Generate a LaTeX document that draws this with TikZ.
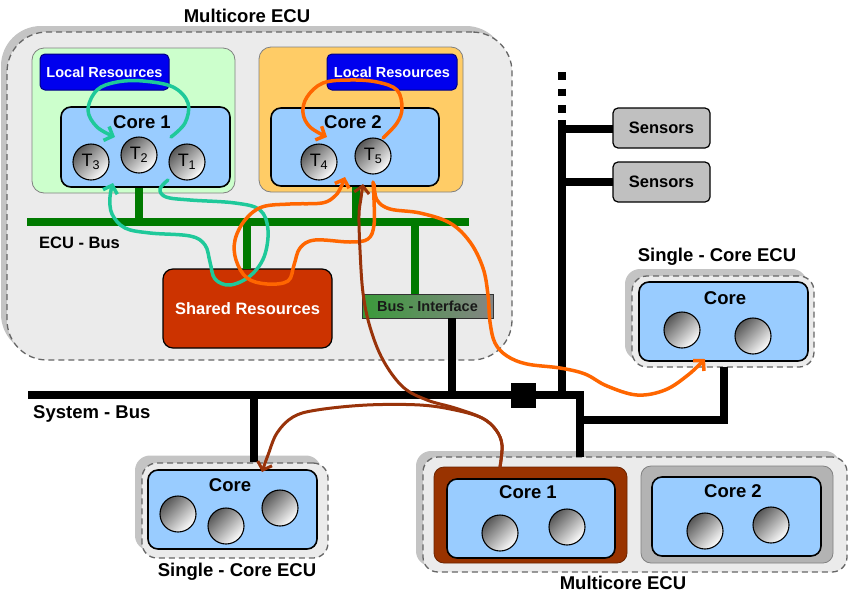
\documentclass[tikz,border=0pt]{standalone}
\usepackage{fontspec}
\setmainfont{Liberation Sans}
\usetikzlibrary{arrows.meta}
\definecolor{ecufillc}{HTML}{EBEBEB}
\definecolor{ecushadowc}{HTML}{C4C4C4}
\definecolor{dashc}{HTML}{666666}
\definecolor{greenc}{HTML}{CCFFCC}
\definecolor{orangec}{HTML}{FFCC66}
\definecolor{corec}{HTML}{99CCFF}
\definecolor{localresc}{HTML}{0000EE}
\definecolor{sharedc}{HTML}{CC3300}
\definecolor{busgreenc}{HTML}{007A00}
\definecolor{busifl}{HTML}{3A9A3A}
\definecolor{busifr}{HTML}{858585}
\definecolor{arrteal}{HTML}{1FC99A}
\definecolor{arrorange}{HTML}{FF6600}
\definecolor{arrbrown}{HTML}{99330A}
\definecolor{brownbox}{HTML}{993300}
\definecolor{graybox}{HTML}{B3B3B3}
\definecolor{sensorc}{HTML}{C0C0C0}
\newcommand{\ffbig}{\bfseries\fontsize{18.5}{20}\selectfont}
\newcommand{\ffmid}{\bfseries\fontsize{16.5}{18}\selectfont}
\newcommand{\ffsmall}{\bfseries\fontsize{14.5}{16}\selectfont}
\newcommand{\fftask}{\fontsize{18}{20}\selectfont}
\tikzset{
  box/.style={rectangle, inner sep=0pt, outer sep=0pt},
  ecushade/.style={box, fill=ecushadowc},
  ecubody/.style={box, fill=ecufillc, draw=dashc, line width=1.3pt, dash pattern=on 6pt off 4pt},
  greenarea/.style={box, fill=greenc, draw=gray, line width=0.8pt, rounded corners=12pt},
  orangearea/.style={box, fill=orangec, draw=gray, line width=0.8pt, rounded corners=12pt},
  localres/.style={box, fill=localresc, draw=localresc!55!black, line width=1pt, rounded corners=5pt, text=white, font=\ffsmall},
  corebox/.style={box, fill=corec, draw=black, line width=1.6pt, rounded corners=10pt},
  task/.style={circle, draw=black, line width=1.1pt, minimum size=36pt, inner sep=0pt, top color=black!66, bottom color=white, shading angle=45, font=\fftask},
  lbl/.style={font=\ffbig, inner sep=0pt},
  midlbl/.style={font=\ffmid, inner sep=0pt},
  ecubus/.style={draw=busgreenc, line width=8pt},
  sysbus/.style={draw=black, line width=8pt},
  arrbase/.style={line width=3.5pt, line cap=round, line join=round, -{Straight Barb[length=7pt,width=15pt]}},
  tealarr/.style={arrbase, draw=arrteal},
  orangearr/.style={arrbase, draw=arrorange},
  brownarr/.style={arrbase, draw=arrbrown, line width=3pt},
}
\begin{document}
\begin{tikzpicture}[x=1pt,y=-1pt]
\useasboundingbox[fill=white] (0,0) rectangle (850,600);

% ===== Top multicore ECU =====
\node[ecushade, rounded corners=40pt, minimum width=505pt, minimum height=328pt] (ecuAs) at (253.5,190) {};
\node[ecubody, rounded corners=40pt, minimum width=505pt, minimum height=328pt] (ecuA) at (259.5,196) {};
\node[lbl] (ecuAt) at (247,16) {Multicore ECU};

\node[greenarea, minimum width=203pt, minimum height=145pt] (garea) at (133.5,120.5) {};
\node[orangearea, minimum width=204pt, minimum height=145pt] (oarea) at (361,119.5) {};
\node[localres, minimum width=129pt, minimum height=36pt] (lrA) at (104.5,72) {Local Resources};
\node[localres, minimum width=130pt, minimum height=36pt] (lrB) at (392,72) {Local Resources};

% ECU bus
\coordinate (ebL) at (27,222);
\coordinate (ebR) at (469,222);
\coordinate (ebC1) at (139,222);
\coordinate (ebC2) at (356,222);
\coordinate (ebSR) at (247,222);
\coordinate (ebBI) at (415,222);
\coordinate (c1s) at (139,187);
\coordinate (c2s) at (356,186);
\draw[ecubus] (ebL) -- (ebR);
\draw[ecubus] (c1s) -- (ebC1);
\draw[ecubus] (c2s) -- (ebC2);

\node[corebox, minimum width=169pt, minimum height=80pt] (coreA1) at (145.5,147) {};
\node[lbl] (coreA1t) at (142,122) {Core 1};
\node[task] (t3) at (91,162) {T\textsubscript{3}};
\node[task] (t2) at (139,155) {T\textsubscript{2}};
\node[task] (t1) at (187,162) {T\textsubscript{1}};

\node[corebox, minimum width=168pt, minimum height=78pt] (coreA2) at (355,147) {};
\node[lbl] (coreA2t) at (353,122) {Core 2};
\node[task] (t4) at (319,162) {T\textsubscript{4}};
\node[task] (t5) at (373,156) {T\textsubscript{5}};

\node[box, fill=sharedc, draw=black, line width=1.2pt, rounded corners=10pt, minimum width=169pt, minimum height=79pt, text=white, font=\ffmid] (shared) at (247.5,308.5) {Shared Resources};
\node[box, left color=busifl, right color=busifr, draw=black!80, line width=1pt, minimum width=131pt, minimum height=24pt, text=black!90, font=\ffsmall] (busif) at (427.5,306) {Bus - Interface};
\draw[ecubus] (ebSR) -- (shared.north -| ebSR);
\draw[ecubus] (ebBI) -- (busif.north -| ebBI);
\node[midlbl, anchor=west] (ecubuslbl) at (39,243) {ECU - Bus};

% ===== Right single-core ECU =====
\node[ecushade, rounded corners=15pt, minimum width=182pt, minimum height=91pt] (ecuBs) at (716,314.5) {};
\node[ecubody, rounded corners=15pt, minimum width=182pt, minimum height=91pt] (ecuB) at (723,321.5) {};
\node[lbl] (ecuBt) at (717,257) {Single - Core ECU};
\node[corebox, minimum width=169pt, minimum height=79pt] (coreB) at (723.5,321.5) {};
\node[lbl] (coreBt) at (725,298) {Core};
\node[task] (tb1) at (682,330) {};
\node[task] (tb2) at (753,336) {};

% ===== Bottom multicore ECU =====
\node[ecushade, rounded corners=15pt, minimum width=424pt, minimum height=115pt] (ecuCs) at (628,508.5) {};
\node[ecubody, rounded corners=15pt, minimum width=424pt, minimum height=115pt] (ecuC) at (635,514.5) {};
\node[lbl] (ecuCt) at (623,583) {Multicore ECU};
\node[box, fill=brownbox, draw=brownbox!70!black, line width=0.8pt, rounded corners=10pt, minimum width=193pt, minimum height=96pt] (cC1o) at (530.5,515) {};
\node[corebox, minimum width=168pt, minimum height=79pt] (coreC1) at (531,518.5) {};
\node[lbl] (coreC1t) at (528,492) {Core 1};
\node[task] (tc1) at (500,533) {};
\node[task] (tc2) at (567,527) {};
\node[box, fill=graybox, draw=gray, line width=0.8pt, rounded corners=10pt, minimum width=192pt, minimum height=97pt] (cC2o) at (737,514.5) {};
\node[corebox, minimum width=169pt, minimum height=79pt] (coreC2) at (736.5,516.5) {};
\node[lbl] (coreC2t) at (733,491) {Core 2};
\node[task] (tc3) at (705,531) {};
\node[task] (tc4) at (771,525) {};

% ===== Bottom-left single-core ECU =====
\node[ecushade, rounded corners=15pt, minimum width=186pt, minimum height=95pt] (ecuDs) at (228,503) {};
\node[ecubody, rounded corners=15pt, minimum width=186pt, minimum height=95pt] (ecuD) at (235,510.5) {};
\node[lbl] (ecuDt) at (237,572) {Single - Core ECU};
\node[corebox, minimum width=169pt, minimum height=79pt] (coreD) at (232.5,509.5) {};
\node[lbl] (coreDt) at (230,485) {Core};
\node[task] (td1) at (178,514) {};
\node[task] (td2) at (226,526) {};
\node[task] (td3) at (280,508) {};

% ===== System bus =====
\coordinate (sbL) at (28,395);
\coordinate (sbR) at (580,395);
\coordinate (sbD) at (580,457);
\coordinate (sbBr) at (580,420);
\coordinate (sbBr2) at (724,420);
\coordinate (sbB) at (724,367);
\coordinate (sbLD) at (254,395);
\coordinate (sbLD2) at (254,462);
\coordinate (sbBI) at (452,395);
\coordinate (sv) at (562,395);
\coordinate (svtop) at (562,120);
\coordinate (svdot) at (562,72);
\coordinate (svdotend) at (562,114);
\draw[sysbus] (sbL) -- (sbR) -- (sbD);
\draw[sysbus] (sbBr) -- (sbBr2) -- (sbB);
\draw[sysbus] (sbLD) -- (sbLD2);
\draw[sysbus] (busif.south -| sbBI) -- (sbBI);
\draw[sysbus] (svtop) -- (sv);
\draw[sysbus, dash pattern=on 7.5pt off 9pt] (svdot) -- (svdotend);
\node[box, fill=black, minimum size=25pt] (conn) at (523,395) {};
\node[midlbl, anchor=west, font=\ffbig] (sysbuslbl) at (33,414) {System - Bus};

% Sensors
\node[box, fill=sensorc, draw=black, line width=1.2pt, rounded corners=5pt, minimum width=97pt, minimum height=40pt, font=\ffmid] (sens1) at (661.5,128) {Sensors};
\node[box, fill=sensorc, draw=black, line width=1.2pt, rounded corners=5pt, minimum width=97pt, minimum height=40pt, font=\ffmid] (sens2) at (661.5,182) {Sensors};
\coordinate (sj1) at (562,129);
\coordinate (sj2) at (562,182);
\draw[sysbus] (sj1) -- (sens1.west |- sj1);
\draw[sysbus] (sj2) -- (sens2.west |- sj2);

% ===== Arrows =====
\draw[tealarr] plot[smooth, tension=0.6] coordinates {(171,137) (185,123) (188,103) (173,87) (143,81) (117,82) (97,90) (88,110) (97,127) (115,137)};
\draw[tealarr] plot[smooth, tension=0.6] coordinates {(168,180) (160,189) (166,197) (190,200) (235,203) (260,210) (268,230) (264,257) (250,276) (230,285) (215,279) (210,262) (205,245) (190,236) (150,233) (125,228) (112,214) (110,197) (113,183)};
\draw[orangearr] plot[smooth, tension=0.6] coordinates {(383,138) (397,123) (402,108) (397,90) (377,82) (350,80) (323,83) (307,97) (303,113) (310,127) (327,137)};
\draw[orangearr] plot[smooth, tension=0.6] coordinates {(373,182) (374,200) (374,225) (368,239) (350,242) (315,240) (300,248) (294,265) (288,281) (267,284) (247,278) (236,260) (235,240) (245,220) (262,207) (290,204) (322,203) (335,196) (341,187) (345,177)};
\draw[orangearr] plot[smooth, tension=0.6] coordinates {(374,184) (377,200) (390,209) (420,213) (450,223) (470,242) (483,268) (488,295) (490,322) (495,343) (507,356) (527,364) (560,368) (585,374) (607,386) (637,395) (665,390) (688,375) (705,359)};
\draw[brownarr] plot[smooth, tension=0.6] coordinates {(500,467) (502,445) (496,430) (482,418) (455,408) (427,400) (403,387) (383,360) (370,327) (363,293) (360,250) (359,215) (361,198) (363,184)};
\draw[brownarr] plot[smooth, tension=0.6] coordinates {(500,467) (502,445) (496,430) (482,418) (455,410) (420,405) (367,405) (317,410) (293,417) (277,433) (268,455) (262,472)};
\end{tikzpicture}
\end{document}
